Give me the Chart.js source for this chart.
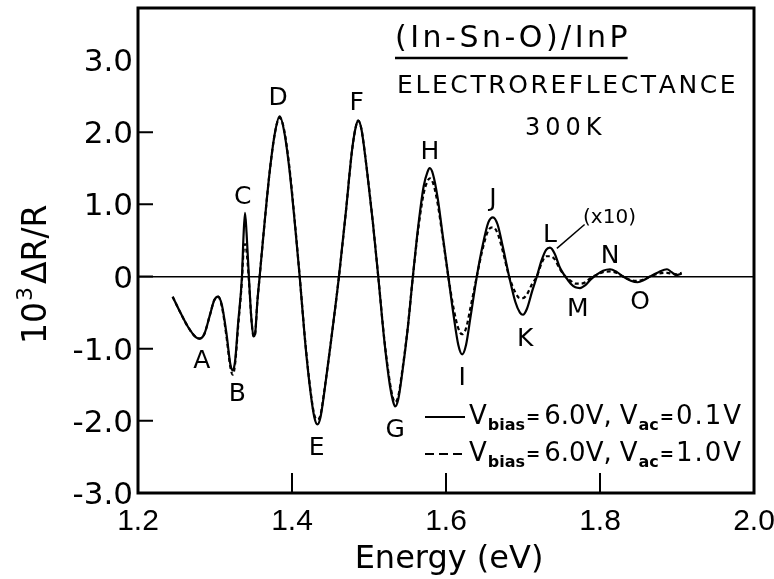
<!DOCTYPE html>
<html>
<head>
<meta charset="utf-8">
<title>(In-Sn-O)/InP electroreflectance</title>
<script src="https://cdn.jsdelivr.net/npm/chart.js@4/dist/chart.umd.min.js"></script>
<style>
  html, body { margin: 0; padding: 0; background: #fff; }
</style>
</head>
<body>
<canvas id="erChart" width="774" height="579"></canvas>
<script>
// Photon energy (eV), shared by both traces
const energy = [
  1.245, 1.255, 1.265, 1.275, 1.280, 1.286, 1.293, 1.299, 1.304, 1.309,
  1.315, 1.320, 1.323, 1.326, 1.330, 1.335, 1.337, 1.339, 1.341, 1.344,
  1.347, 1.350, 1.352, 1.355, 1.358, 1.364, 1.371, 1.378, 1.384, 1.390,
  1.397, 1.404, 1.410, 1.417, 1.424, 1.429, 1.433, 1.437, 1.442, 1.450,
  1.461, 1.470, 1.478, 1.483, 1.486, 1.490, 1.497, 1.505, 1.512, 1.520,
  1.527, 1.531, 1.534, 1.538, 1.543, 1.550, 1.557, 1.564, 1.571, 1.576,
  1.579, 1.583, 1.589, 1.596, 1.603, 1.610, 1.616, 1.621, 1.626, 1.632,
  1.640, 1.648, 1.655, 1.661, 1.667, 1.674, 1.682, 1.690, 1.696, 1.700,
  1.705, 1.712, 1.718, 1.724, 1.730, 1.735, 1.741, 1.748, 1.755, 1.762,
  1.768, 1.774, 1.781, 1.788, 1.795, 1.804, 1.813, 1.822, 1.830, 1.840,
  1.849, 1.857, 1.865, 1.876, 1.887, 1.893, 1.899, 1.906
];

// 10^3 dR/R, Vbias = 6.0 V, Vac = 0.1 V (solid)
const drLowAc = [
  -0.28, -0.50, -0.70, -0.84, -0.86, -0.80, -0.55, -0.33, -0.28, -0.40,
  -0.80, -1.22, -1.30, -1.18, -0.65, 0.00, 0.55, 0.88, 0.60, 0.00,
  -0.55, -0.83, -0.80, -0.35, 0.00, 0.70, 1.45, 2.00, 2.22, 2.00,
  1.45, 0.70, 0.00, -0.90, -1.60, -1.95, -2.05, -1.95, -1.60, -0.95,
  0.00, 0.90, 1.75, 2.08, 2.16, 2.05, 1.50, 0.75, 0.00, -0.90,
  -1.50, -1.72, -1.80, -1.70, -1.35, -0.75, 0.00, 0.70, 1.25, 1.45,
  1.50, 1.42, 1.10, 0.55, 0.00, -0.55, -0.95, -1.08, -0.95, -0.55,
  0.00, 0.45, 0.75, 0.82, 0.72, 0.40, 0.00, -0.35, -0.50, -0.53,
  -0.45, -0.20, 0.00, 0.22, 0.37, 0.40, 0.32, 0.12, 0.00, -0.10,
  -0.15, -0.16, -0.12, -0.04, 0.02, 0.08, 0.10, 0.06, 0.00, -0.06,
  -0.08, -0.05, 0.00, 0.06, 0.10, 0.06, 0.02, 0.04
];

// 10^3 dR/R, Vbias = 6.0 V, Vac = 1.0 V (dashed)
const drHighAc = [
  -0.28, -0.50, -0.70, -0.84, -0.86, -0.80, -0.55, -0.33, -0.28, -0.42,
  -0.84, -1.26, -1.36, -1.22, -0.70, -0.05, 0.35, 0.45, 0.35, -0.05,
  -0.55, -0.83, -0.80, -0.35, 0.00, 0.70, 1.45, 2.00, 2.20, 2.02,
  1.48, 0.72, 0.00, -0.88, -1.58, -1.92, -1.98, -1.92, -1.58, -0.95,
  0.00, 0.90, 1.75, 2.08, 2.16, 2.05, 1.50, 0.75, 0.00, -0.88,
  -1.46, -1.68, -1.74, -1.66, -1.32, -0.74, 0.00, 0.66, 1.15, 1.32,
  1.36, 1.30, 1.02, 0.52, 0.00, -0.45, -0.72, -0.80, -0.72, -0.42,
  0.00, 0.40, 0.64, 0.68, 0.60, 0.34, 0.00, -0.22, -0.30, -0.30,
  -0.25, -0.10, 0.00, 0.18, 0.28, 0.28, 0.24, 0.10, 0.00, -0.06,
  -0.10, -0.10, -0.08, -0.02, 0.02, 0.06, 0.07, 0.05, 0.00, -0.05,
  -0.06, -0.04, 0.00, 0.04, 0.05, 0.04, 0.03, 0.05
];

// Axis ticks and their printed labels
const xTicks = [1.2, 1.4, 1.6, 1.8, 2.0];
const xTickLabels = ['1.2', '1.4', '1.6', '1.8', '2.0'];
const yTicks = [-3, -2, -1, 0, 1, 2, 3];
const yTickLabels = ['-3.0', '-2.0', '-1.0', '0', '1.0', '2.0', '3.0'];

// Structure letters and where they sit (energy, dR/R)
const peakNames = ['A', 'B', 'C', 'D', 'E', 'F', 'G', 'H', 'I', 'J', 'K', 'L', 'M', 'N', 'O'];
const peakLabelX = [1.283, 1.329, 1.336, 1.382, 1.432, 1.484, 1.534, 1.579, 1.621, 1.661, 1.703, 1.735, 1.771, 1.813, 1.852];
const peakLabelY = [-1.18, -1.64, 1.10, 2.47, -2.38, 2.40, -2.13, 1.72, -1.41, 1.06, -0.88, 0.57, -0.46, 0.27, -0.36];

const FONT = "'DejaVu Sans', sans-serif";
Chart.defaults.color = '#000';
Chart.defaults.font.family = FONT;

function toPoints(ys) {
  return energy.map((e, i) => ({ x: e, y: ys[i] }));
}

// Draws spaced text; returns width used
function spacedText(ctx, txt, x, y, spacing) {
  let cx = x;
  for (const ch of txt) {
    ctx.fillText(ch, cx, y);
    cx += ctx.measureText(ch).width + spacing;
  }
  return cx - x - spacing;
}

function legendRow(ctx, x, y, dash, vac) {
  ctx.save();
  ctx.lineWidth = 2;
  ctx.setLineDash(dash);
  ctx.beginPath();
  ctx.moveTo(x, y - 7);
  ctx.lineTo(x + 40, y - 7);
  ctx.stroke();
  ctx.setLineDash([]);
  ctx.textAlign = 'left';
  ctx.textBaseline = 'alphabetic';
  let cx = x + 44;
  const put = (txt, font, dy, gap) => {
    ctx.font = font;
    ctx.fillText(txt, cx, y + dy);
    cx += ctx.measureText(txt).width + gap;
  };
  const main = '26px ' + FONT;
  const sub = 'bold 16px ' + FONT;
  const eq = 'bold 17px ' + FONT;
  put('V', main, 0, 1);
  put('bias', sub, 6, 1);
  put('=', eq, -1, 4);
  put('6.0V,', main, 0, 8);
  put('V', main, 0, 1);
  put('ac', sub, 6, 1);
  put('=', eq, -1, 2);
  ctx.font = main;
  spacedText(ctx, vac, cx, y, 2);
  ctx.restore();
}

const notesPlugin = {
  id: 'frameAndNotes',
  afterDraw(chart) {
    const { ctx, chartArea: a, scales: { x, y } } = chart;
    ctx.save();
    ctx.strokeStyle = '#000';
    ctx.fillStyle = '#000';

    // Box round the plot
    ctx.lineWidth = 3;
    ctx.strokeRect(a.left, a.top, a.right - a.left, a.bottom - a.top);

    // Inward tick marks
    ctx.lineWidth = 2;
    ctx.beginPath();
    [-2, -1, 0, 1, 2].forEach(v => {
      const py = y.getPixelForValue(v);
      ctx.moveTo(a.left, py);
      ctx.lineTo(a.left + 15, py);
    });
    [1.4, 1.6, 1.8].forEach(v => {
      const px = x.getPixelForValue(v);
      ctx.moveTo(px, a.bottom);
      ctx.lineTo(px, a.bottom - 20);
    });
    ctx.stroke();

    // Structure letters
    ctx.font = '25px ' + FONT;
    ctx.textAlign = 'center';
    ctx.textBaseline = 'middle';
    peakNames.forEach((n, i) => {
      ctx.fillText(n, x.getPixelForValue(peakLabelX[i]), y.getPixelForValue(peakLabelY[i]));
    });

    // (x10) note with leader line
    ctx.font = '20px ' + FONT;
    ctx.textAlign = 'left';
    ctx.fillText('(x10)', x.getPixelForValue(1.778), y.getPixelForValue(0.82));
    ctx.lineWidth = 1.5;
    ctx.beginPath();
    ctx.moveTo(x.getPixelForValue(1.744), y.getPixelForValue(0.39));
    ctx.lineTo(x.getPixelForValue(1.780), y.getPixelForValue(0.72));
    ctx.stroke();

    // Title block
    ctx.textBaseline = 'alphabetic';
    ctx.font = '30px ' + FONT;
    const w = spacedText(ctx, '(In-Sn-O)/InP', 395, 47, 3.5);
    ctx.lineWidth = 2.5;
    ctx.beginPath();
    ctx.moveTo(395, 58);
    ctx.lineTo(395 + w, 58);
    ctx.stroke();
    ctx.font = '25px ' + FONT;
    spacedText(ctx, 'ELECTROREFLECTANCE', 397, 93, 2.6);
    ctx.font = '24px ' + FONT;
    spacedText(ctx, '300K', 525, 135, 5);

    // Legend
    legendRow(ctx, 425, 424, [], '0.1V');
    legendRow(ctx, 425, 461, [9, 5], '1.0V');

    // Axis titles
    ctx.font = '32px ' + FONT;
    ctx.textAlign = 'center';
    ctx.fillText('Energy (eV)', 449, 568);

    ctx.translate(46, 344);
    ctx.rotate(-Math.PI / 2);
    ctx.textAlign = 'left';
    let cx = 0;
    ctx.font = '33px ' + FONT;
    ctx.fillText('10', cx, 0);
    cx += ctx.measureText('10').width + 1;
    ctx.font = '22px ' + FONT;
    ctx.fillText('3', cx, -14);
    cx += ctx.measureText('3').width + 3;
    ctx.font = '33px ' + FONT;
    ctx.fillText('\u0394R/R', cx, 0);
    ctx.restore();
  }
};

new Chart(document.getElementById('erChart'), {
  type: 'line',
  data: {
    datasets: [
      {
        label: 'Vbias = 6.0V, Vac = 0.1V',
        data: toPoints(drLowAc),
        borderColor: '#000',
        borderWidth: 2.2,
        pointRadius: 0,
        cubicInterpolationMode: 'monotone'
      },
      {
        label: 'Vbias = 6.0V, Vac = 1.0V',
        data: toPoints(drHighAc),
        borderColor: '#000',
        borderWidth: 2.2,
        borderDash: [4, 3],
        pointRadius: 0,
        cubicInterpolationMode: 'monotone'
      }
    ]
  },
  options: {
    responsive: false,
    animation: false,
    layout: { padding: { top: 8, right: 20, left: 0, bottom: 0 } },
    plugins: { legend: { display: false }, tooltip: { enabled: false } },
    scales: {
      x: {
        type: 'linear',
        min: 1.2,
        max: 2.0,
        afterBuildTicks: s => { s.ticks = xTicks.map(v => ({ value: v })); },
        afterFit: s => { s.height = 86; s.paddingLeft = 0; s.paddingRight = 0; },
        grid: { display: false },
        border: { display: false },
        ticks: {
          autoSkip: false,
          maxRotation: 0,
          padding: 3,
          font: { family: "'Liberation Sans', sans-serif", size: 30 },
          callback: v => xTickLabels[xTicks.indexOf(v)]
        }
      },
      y: {
        type: 'linear',
        min: -3.0,
        max: 3.72,
        afterBuildTicks: s => { s.ticks = yTicks.map(v => ({ value: v })); },
        afterFit: s => { s.width = 138; s.paddingTop = 0; s.paddingBottom = 0; },
        // only the zero line is drawn across the plot
        grid: {
          drawTicks: false,
          lineWidth: 1.5,
          color: c => (c.tick && c.tick.value === 0 ? '#000' : 'rgba(0,0,0,0)')
        },
        border: { display: false },
        ticks: {
          padding: 5,
          labelOffset: 3,
          font: { size: 31 },
          callback: v => yTickLabels[yTicks.indexOf(v)]
        }
      }
    }
  },
  plugins: [notesPlugin]
});
</script>
</body>
</html>
